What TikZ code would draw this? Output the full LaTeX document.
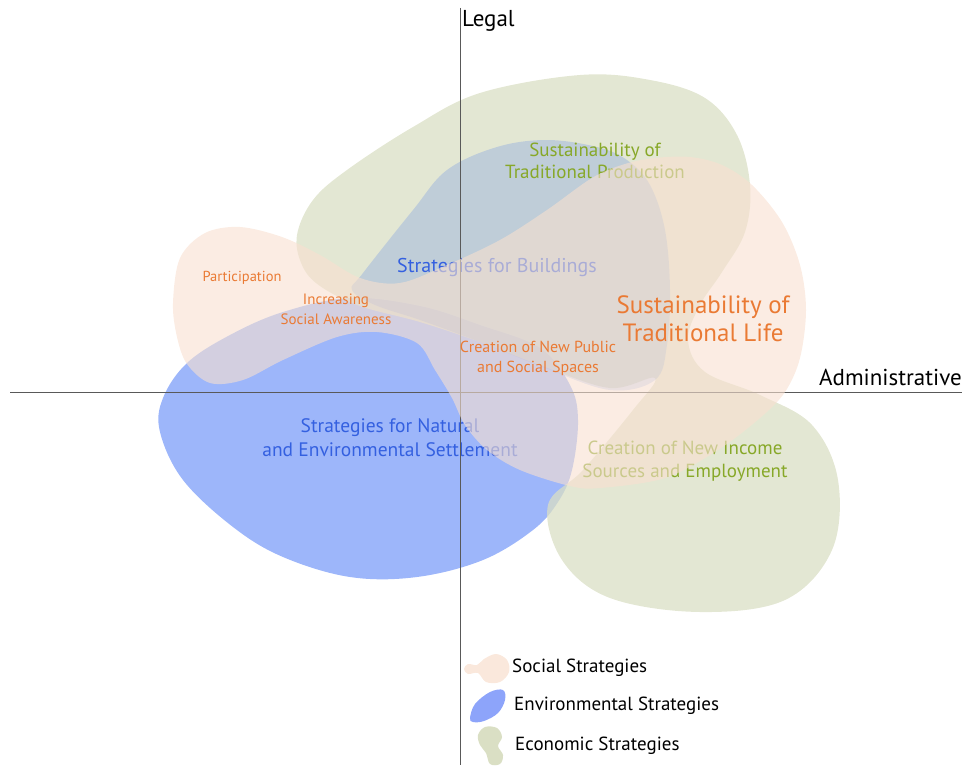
\documentclass[tikz,border=0pt]{standalone}
\usepackage{fontspec}
\setmainfont{PT Sans}
\usepackage{tikz}

\definecolor{envblue}{RGB}{157,182,250}
\definecolor{econgreen}{RGB}{218,223,196}
\definecolor{bldblue}{RGB}{100,140,230}
\definecolor{socialpeach}{RGB}{248,224,208}
\definecolor{orangetext}{RGB}{234,122,52}
\definecolor{greentext}{RGB}{135,168,40}
\definecolor{bluetext}{RGB}{52,96,224}

\begin{document}
\begin{tikzpicture}[x=1pt, y=-1pt,
  label/.style={inner sep=0pt, align=center},
  axisline/.style={draw=black!65, line width=0.9pt},
  keytext/.style={anchor=west, inner sep=0pt, font=\fontsize{19}{22}\selectfont}]

\useasboundingbox (0,0) rectangle (965,765);

% environmental blob, lower left
\fill[envblue] plot[smooth cycle, tension=0.6] coordinates {
  (163,398) (187,363) (230,335) (283,312) (350,298) (420,306) (480,325)
  (540,348) (570,385) (578,420) (572,470) (558,502) (533,530) (483,560)
  (417,577) (350,577) (283,557) (233,527) (183,480) (160,432)};

% economic blob, two lobes
\fill[econgreen, opacity=0.75] plot[smooth cycle, tension=0.6] coordinates {
  (297,235) (313,200) (347,170) (413,127) (480,93) (580,75) (650,80)
  (705,98) (737,135) (750,185) (745,232) (722,272) (700,305) (688,340)
  (705,372) (760,395) (812,425) (838,480) (832,550) (785,600) (700,612)
  (610,598) (562,560) (548,505) (583,470) (633,410) (655,378) (610,388)
  (545,367) (480,342) (420,322) (360,306) (320,286) (302,265)};

% buildings blob
\fill[bldblue, opacity=0.28] plot[smooth cycle, tension=0.6] coordinates {
  (352,290) (363,273) (413,210) (447,170) (497,147) (547,140) (597,147)
  (627,160) (650,185) (665,230) (670,290) (667,345) (655,380) (610,390)
  (545,368) (480,342) (420,320) (375,305)};

% labels under the social layer
\node[label, text=greentext, font=\fontsize{19}{22}\selectfont] (prod) at (595,161)
  {Sustainability of\\Traditional Production};
\node[label, text=bluetext, font=\fontsize{20}{24}\selectfont] (bld) at (497,267)
  {Strategies for Buildings};
\node[label, text=bluetext, font=\fontsize{19.5}{24}\selectfont] (nat) at (390,438)
  {Strategies for Natural\\and Environmental Settlement};
\node[label, text=greentext, font=\fontsize{19}{23}\selectfont] (inc) at (685,461)
  {Creation of New Income\\Sources and Employment};

% axes
\coordinate (top) at (460,8);
\coordinate (bottom) at (460,765);
\coordinate (left) at (10,392);
\coordinate (right) at (962,392);
\draw[axisline] (top) -- (bottom);
\draw[axisline] (left) -- (right);

% social blob on top
\fill[socialpeach, opacity=0.6] plot[smooth cycle, tension=0.55] coordinates {
  (173,303) (180,258) (205,233) (240,227) (282,237) (320,255) (360,278)
  (400,283) (447,265) (500,240) (547,210) (592,178) (625,164) (655,158)
  (690,157) (722,165) (752,185) (782,222) (800,265) (806,310) (800,358)
  (785,392) (760,418) (718,450) (665,478) (600,488) (570,486) (520,470)
  (487,450) (465,425) (452,398) (435,370) (417,343) (377,332) (337,337)
  (283,360) (243,380) (210,383) (187,364) (177,337)};

% social labels
\node[label, text=orangetext, font=\fontsize{14.5}{17}\selectfont] (part) at (242,278)
  {Participation};
\node[label, text=orangetext, font=\fontsize{15}{20}\selectfont] (aware) at (336,309)
  {Increasing\\Social Awareness};
\node[label, text=orangetext, font=\fontsize{16}{20}\selectfont] (pub) at (538,358)
  {Creation of New Public\\and Social Spaces};
\node[label, text=orangetext, font=\fontsize{25}{28}\selectfont] (life) at (703,319)
  {Sustainability of\\Traditional Life};

% axis names
\node[anchor=west, inner sep=0pt, font=\fontsize{23}{26}\selectfont] (legal) at (462,21) {Legal};
\node[anchor=east, inner sep=0pt, font=\fontsize{23}{26}\selectfont] (admin) at (962,377) {Administrative};

% legend
\fill[socialpeach!75] plot[smooth cycle, tension=0.6] coordinates {
  (464,669) (468,664) (477,665) (484,659) (496,654) (507,660) (509,672)
  (500,682) (486,682) (478,673) (468,674)};
\fill[envblue!90!blue] plot[smooth cycle, tension=0.6] coordinates {
  (470,718) (475,704) (490,692) (503,690) (505,700) (498,713) (484,721) (473,722)};
\fill[econgreen] plot[smooth cycle, tension=0.6] coordinates {
  (478,735) (485,727) (497,728) (502,737) (498,746) (503,755) (500,764)
  (490,764) (486,753) (480,745)};
\node[keytext] (ksoc) at (512,668) {Social Strategies};
\node[keytext] (kenv) at (514,706) {Environmental Strategies};
\node[keytext] (keco) at (515,746) {Economic Strategies};

\end{tikzpicture}
\end{document}
